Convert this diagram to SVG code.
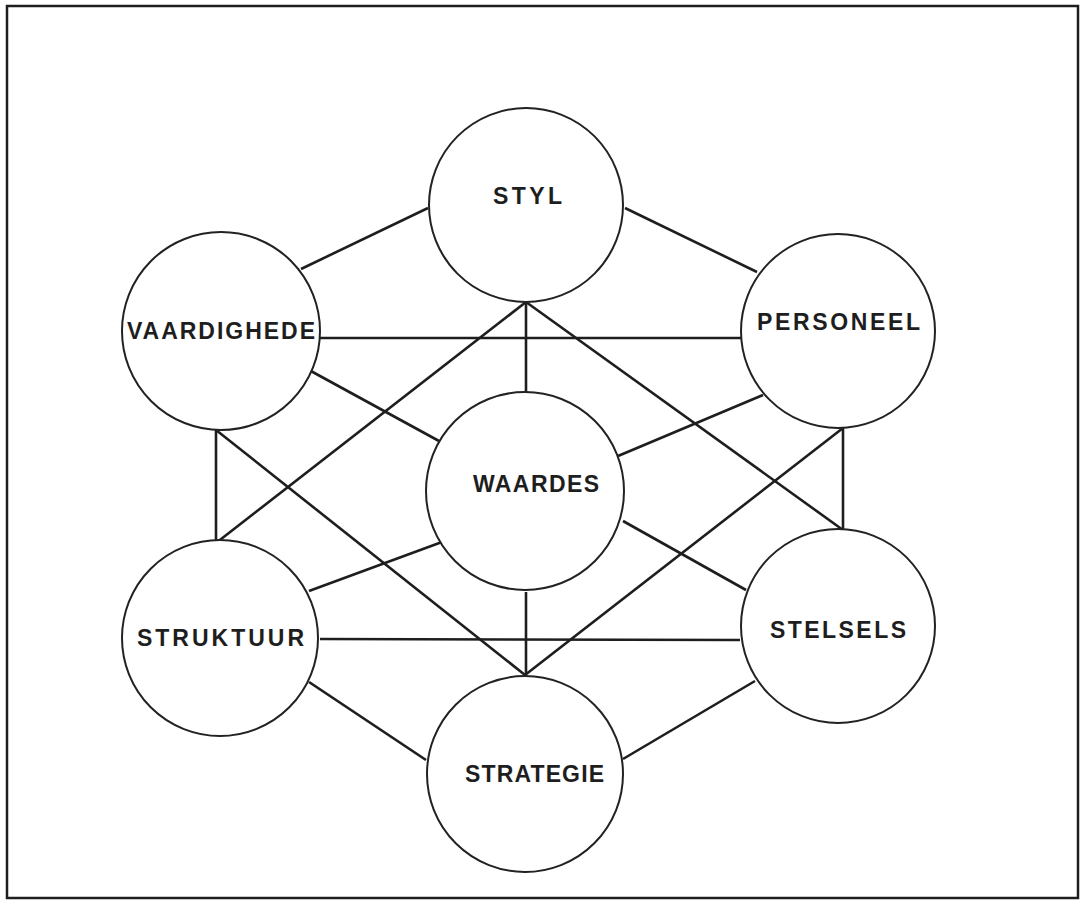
<svg xmlns="http://www.w3.org/2000/svg" width="1088" height="906" viewBox="0 0 1088 906">
<style>
.frame{fill:none;stroke:#1e1e1e;stroke-width:2.5}
.node circle{fill:#fff;stroke:#222;stroke-width:2}
.node text{font-family:"Liberation Sans",Arial,sans-serif;font-weight:bold;font-size:23px;fill:#1e1e1e}
#connectors line{stroke:#1e1e1e;stroke-width:2.6;stroke-linecap:butt}
</style>
<rect width="1088" height="906" fill="#fff"/>
<rect class="frame" x="7" y="6" width="1071" height="892"/>
<g id="connectors">
<line x1="301" y1="269" x2="428" y2="208"/>
<line x1="625" y1="208" x2="757" y2="272"/>
<line x1="320" y1="338" x2="742" y2="338"/>
<line x1="526" y1="302" x2="526" y2="392"/>
<line x1="526" y1="302" x2="216" y2="543"/>
<line x1="526" y1="302" x2="843" y2="530"/>
<line x1="309" y1="370" x2="439" y2="441"/>
<line x1="763" y1="395" x2="618" y2="456"/>
<line x1="216" y1="430" x2="216" y2="543"/>
<line x1="216" y1="430" x2="525" y2="675"/>
<line x1="843" y1="428" x2="843" y2="530"/>
<line x1="843" y1="428" x2="525" y2="675"/>
<line x1="309" y1="591" x2="442" y2="542"/>
<line x1="746" y1="590" x2="623" y2="521"/>
<line x1="320" y1="639" x2="740" y2="640"/>
<line x1="526" y1="592" x2="526" y2="675"/>
<line x1="309" y1="682" x2="426" y2="760"/>
<line x1="755" y1="681" x2="623" y2="759"/>
</g>
<g id="styl" class="node"><circle cx="526" cy="205" r="97"/><text x="493" y="204" textLength="69" lengthAdjust="spacing">STYL</text></g>
<g id="vaardighede" class="node"><circle cx="221" cy="331" r="99"/><text x="127" y="339" textLength="188" lengthAdjust="spacing">VAARDIGHEDE</text></g>
<g id="personeel" class="node"><circle cx="838" cy="331" r="97"/><text x="757" y="330" textLength="163" lengthAdjust="spacing">PERSONEEL</text></g>
<g id="waardes" class="node"><circle cx="525" cy="491" r="99"/><text x="473" y="492" textLength="126" lengthAdjust="spacing">WAARDES</text></g>
<g id="struktuur" class="node"><circle cx="220" cy="638" r="98"/><text x="137" y="646" textLength="167" lengthAdjust="spacing">STRUKTUUR</text></g>
<g id="stelsels" class="node"><circle cx="838" cy="626" r="97"/><text x="770" y="638" textLength="136" lengthAdjust="spacing">STELSELS</text></g>
<g id="strategie" class="node"><circle cx="525" cy="774" r="98"/><text x="465" y="782" textLength="139" lengthAdjust="spacing">STRATEGIE</text></g>
</svg>
